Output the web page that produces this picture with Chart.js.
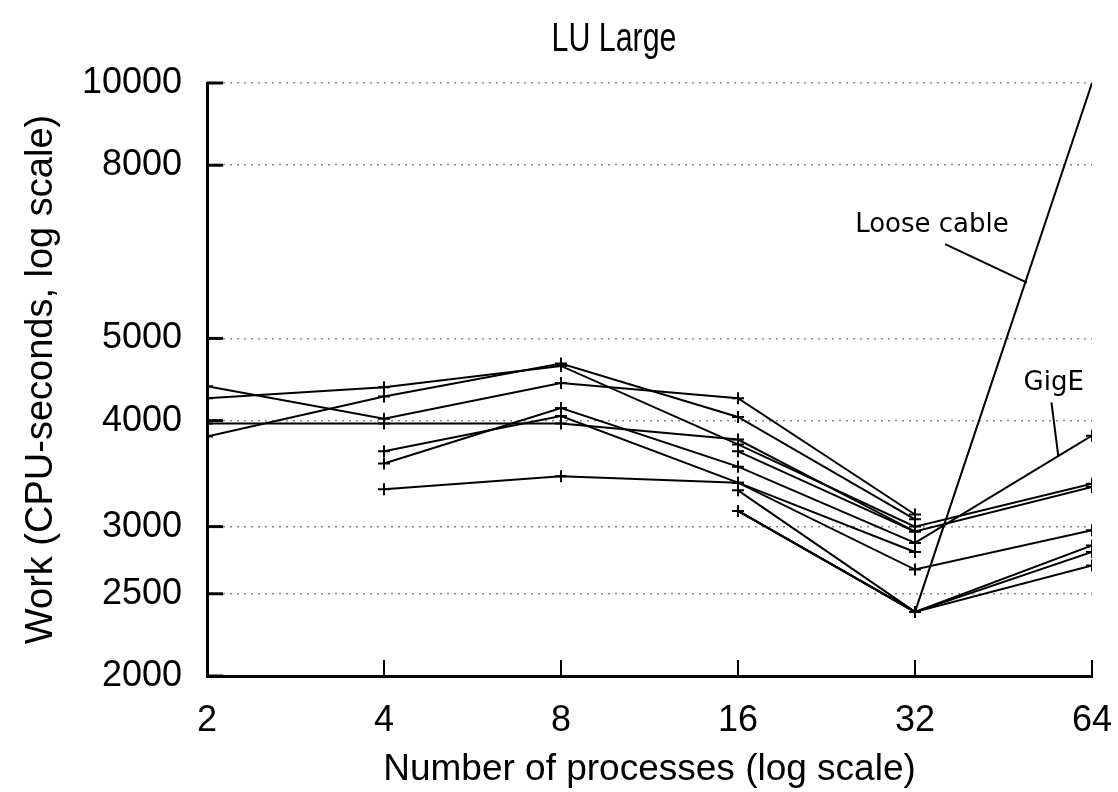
<!DOCTYPE html>
<html>
<head>
<meta charset="utf-8">
<title>LU Large</title>
<script src="https://cdn.jsdelivr.net/npm/chart.js@4/dist/chart.umd.min.js"></script>
<style>
  html, body { margin: 0; padding: 0; background: #fff; overflow: hidden; }
  canvas { display: block; }
</style>
</head>
<body>
<canvas id="luChart" width="1118" height="792"></canvas>
<script>
// x: number of processes, y: work in CPU-seconds (both log scale)
const processes = [2, 4, 8, 16, 32, 64];
const workTicks = [2000, 2500, 3000, 4000, 5000, 8000, 10000];

// one array per run, null where the run has no point
const run1 = [4390, 4020, 4430, 4250, 3100, null];
const run2 = [4250, 4380, 4640, 3750, 3000, 3370];
const run3 = [3970, 3970, 3970, 3800, 2960, 3340];
const run4 = [3830, 4270, 4670, 4040, 3060, null];
const run5 = [null, 3680, 4050, 3380, 2800, null];
const runGigE = [null, 3560, 4140, 3530, 2870, 3840];
const run7 = [null, 3320, 3440, 3380, 2670, 2970];
const run8 = [null, null, null, 3680, 2960, null];
const run9 = [null, null, null, 3310, 2380, 2850];
const run10 = [null, null, null, 3130, 2380, 2800];
const run11 = [null, null, null, 3130, 2380, 2700];
const runLooseCable = [null, null, null, 3130, 2380, 10000];

const runs = [run1, run2, run3, run4, run5, runGigE, run7, run8, run9, run10, run11, runLooseCable];

const chartTitle = "LU Large";

// labels with leader lines, in data coordinates
const notes = [
  { text: "Loose cable", at: [34.2, 6666], from: [36.0, 6458], to: [49.6, 5818] },
  { text: "GigE", at: [55.1, 4348], from: [54.6, 4204], to: [56.1, 3628] },
];

Chart.defaults.font.family = "'Liberation Sans', Arial, sans-serif";
Chart.defaults.color = "#000";

// ticks drawn inward from the axes, like the original plot, plus the x tick labels
const axisExtras = {
  id: "axisExtras",
  afterDraw(chart) {
    const { ctx, chartArea, scales } = chart;
    ctx.save();
    ctx.strokeStyle = "#000";
    ctx.lineWidth = 3;
    workTicks.forEach((v) => {
      const y = scales.y.getPixelForValue(v);
      ctx.beginPath();
      ctx.moveTo(chartArea.left, y);
      ctx.lineTo(chartArea.left + 16, y);
      ctx.stroke();
    });
    ctx.lineWidth = 2;
    ctx.fillStyle = "#000";
    ctx.font = "36px 'Liberation Sans'";
    ctx.textAlign = "center";
    ctx.textBaseline = "middle";
    processes.forEach((v) => {
      const x = scales.x.getPixelForValue(v);
      ctx.beginPath();
      ctx.moveTo(x, chartArea.bottom);
      ctx.lineTo(x, chartArea.bottom - 16);
      ctx.stroke();
      ctx.fillText(String(v), x, chartArea.bottom + 45);
    });
    ctx.restore();
  },
};

const noteLabels = {
  id: "noteLabels",
  afterDraw(chart) {
    const { ctx, scales } = chart;
    ctx.save();
    ctx.fillStyle = "#000";
    ctx.strokeStyle = "#000";
    ctx.lineWidth = 2;
    ctx.font = "26px 'DejaVu Sans'";
    ctx.textAlign = "center";
    ctx.textBaseline = "alphabetic";
    notes.forEach((n) => {
      ctx.fillText(n.text, scales.x.getPixelForValue(n.at[0]), scales.y.getPixelForValue(n.at[1]));
      ctx.beginPath();
      ctx.moveTo(scales.x.getPixelForValue(n.from[0]), scales.y.getPixelForValue(n.from[1]));
      ctx.lineTo(scales.x.getPixelForValue(n.to[0]), scales.y.getPixelForValue(n.to[1]));
      ctx.stroke();
    });
    // title: taller, condensed lettering, a bit left of the plot centre
    ctx.font = "40px 'Liberation Sans'";
    ctx.textBaseline = "middle";
    ctx.translate(614, 40);
    ctx.scale(0.76, 1);
    ctx.fillText(chartTitle, 0, 0);
    ctx.restore();
  },
};

const yMax = workTicks[workTicks.length - 1];

new Chart(document.getElementById("luChart").getContext("2d"), {
  type: "line",
  data: {
    labels: processes,
    datasets: runs.map((r, i) => ({
      label: "run " + (i + 1),
      data: r,
      borderColor: "#000",
      borderWidth: 2,
      pointStyle: "cross",
      pointRadius: (c) => (c.parsed && c.parsed.y >= yMax ? 0 : 6),
      pointBorderWidth: 2,
      pointBorderColor: "#000",
      tension: 0,
      spanGaps: false,
    })),
  },
  options: {
    responsive: false,
    animation: false,
    layout: { padding: { left: 0, right: 26, top: 83, bottom: 0 } },
    plugins: {
      legend: { display: false },
      tooltip: { enabled: false },
      title: { display: false },
    },
    scales: {
      x: {
        type: "logarithmic",
        min: 2,
        max: 64,
        afterBuildTicks: (s) => {
          s.ticks = processes.map((v) => ({ value: v }));
        },
        afterFit: (s) => {
          s.height = 116;
          s.paddingLeft = 0;
          s.paddingRight = 0;
        },
        ticks: { display: false },
        grid: { display: false },
        border: { display: true, color: "#000", width: 3 },
        title: {
          display: true,
          text: "Number of processes (log scale)",
          font: { size: 37 },
          padding: { top: 0, bottom: 0 },
        },
      },
      y: {
        type: "logarithmic",
        min: 2000,
        max: 10000,
        afterBuildTicks: (s) => {
          s.ticks = workTicks.map((v) => ({ value: v }));
        },
        afterFit: (s) => {
          s.width = 207;
          s.paddingTop = 0;
          s.paddingBottom = 0;
        },
        ticks: {
          callback: (v) => String(v),
          font: { size: 36 },
          padding: 25,
          autoSkip: false,
        },
        grid: { color: "#888", lineWidth: 1.5, drawTicks: false },
        border: { display: true, color: "#000", width: 3, dash: [2, 5] },
        title: {
          display: true,
          text: "Work (CPU-seconds, log scale)",
          font: { size: 38 },
          padding: { top: 19, bottom: 0 },
        },
      },
    },
  },
  plugins: [axisExtras, noteLabels],
});
</script>
</body>
</html>
